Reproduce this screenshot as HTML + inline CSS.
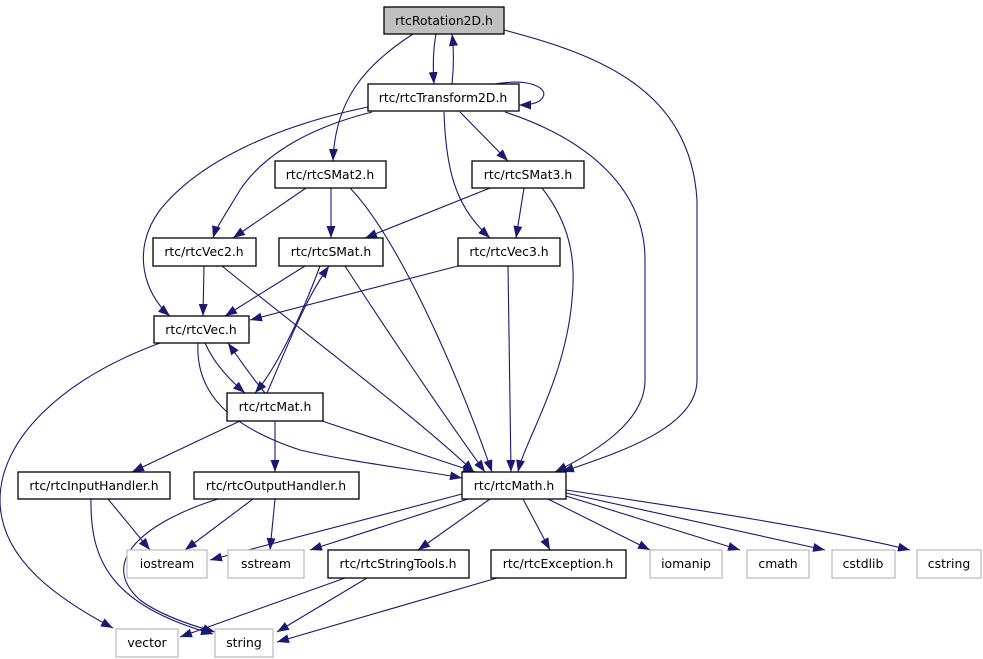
<!DOCTYPE html>
<html><head><meta charset="utf-8"><style>
html,body{margin:0;padding:0;background:#fff;width:983px;height:659px;overflow:hidden}
svg text{font-family:"DejaVu Sans","Liberation Sans",sans-serif;font-size:12.4px;fill:#000}
</style></head><body>
<svg width="983" height="659" viewBox="0 0 983 659" xmlns="http://www.w3.org/2000/svg">
<defs><marker id="a" viewBox="0 0 12 10" refX="12" refY="5" markerWidth="12" markerHeight="10" markerUnits="userSpaceOnUse" orient="auto"><path d="M0,0.5 L12,5 L0,9.5 z" fill="#191970"/></marker></defs>
<g fill="none" stroke="#191970" stroke-width="1.1" marker-end="url(#a)">
<path d="M436,34 C433,50 433,70 434,84"/>
<path d="M452,84 C454,65 454,50 452,34"/>
<path d="M495,84 C530,78 548,88 543,97 C540,103 530,105 519,105"/>
<path d="M413,34 C365,65 335,100 333,161"/>
<path d="M504,30 C600,55 690,90 697,200 L697,380 C697,430 610,455 562,472"/>
<path d="M368,107 C280,125 200,160 160,210 C130,250 145,295 170,316"/>
<path d="M372,112 C300,130 260,160 240,190 C225,215 216,228 213,238"/>
<path d="M460,112 L508,161"/>
<path d="M444,112 C446,180 460,210 490,238"/>
<path d="M505,112 C590,140 645,190 645,260 L645,380 C645,420 600,450 555,472"/>
<path d="M306,188 L233,238"/>
<path d="M331,188 L331,238"/>
<path d="M350,188 C400,240 460,380 492,472"/>
<path d="M490,188 L365,238"/>
<path d="M524,188 L516,238"/>
<path d="M542,188 C575,230 575,270 572,300 C565,380 525,440 518,472"/>
<path d="M204,266 L203,316"/>
<path d="M222,266 C300,330 420,420 474,472"/>
<path d="M305,266 L225,316"/>
<path d="M320,266 C300,320 275,370 255,393"/>
<path d="M267,393 C290,340 305,300 329,266"/>
<path d="M345,266 C380,320 440,410 485,472"/>
<path d="M458,266 L250,320"/>
<path d="M508,266 L511,472"/>
<path d="M160,343 C60,380 0,440 0,500 C0,560 60,600 113,628"/>
<path d="M205,343 C215,365 230,380 245,393"/>
<path d="M265,393 C250,375 240,360 228,343"/>
<path d="M198,343 C195,400 240,430 300,450 C350,462 420,470 462,478"/>
<path d="M240,421 L132,472"/>
<path d="M275,421 L275,472"/>
<path d="M322,421 L475,472"/>
<path d="M108,499 L150,550"/>
<path d="M91,499 C90,560 110,605 213,634"/>
<path d="M253,499 L185,550"/>
<path d="M275,499 L270,550"/>
<path d="M218,499 C150,520 95,560 140,600 C160,615 190,625 215,632"/>
<path d="M462,494 L210,560"/>
<path d="M468,499 L310,550"/>
<path d="M490,499 L418,550"/>
<path d="M523,499 L550,550"/>
<path d="M548,499 L650,550"/>
<path d="M566,496 L740,550"/>
<path d="M566,493 L825,550"/>
<path d="M566,490 C700,510 830,530 910,550"/>
<path d="M345,578 L180,637"/>
<path d="M367,578 L277,632"/>
<path d="M497,578 L277,642"/>
</g>
<g stroke-width="1.3">
<rect x="384" y="7" width="120" height="27" fill="#bfbfbf" stroke="#000"/>
<rect x="368" y="84" width="151" height="27" fill="#fff" stroke="#000"/>
<rect x="275" y="161" width="111" height="27" fill="#fff" stroke="#000"/>
<rect x="472" y="161" width="112" height="27" fill="#fff" stroke="#000"/>
<rect x="153" y="238" width="103" height="28" fill="#fff" stroke="#000"/>
<rect x="279" y="238" width="104" height="28" fill="#fff" stroke="#000"/>
<rect x="458" y="238" width="102" height="28" fill="#fff" stroke="#000"/>
<rect x="154" y="316" width="95" height="27" fill="#fff" stroke="#000"/>
<rect x="227" y="393" width="96" height="28" fill="#fff" stroke="#000"/>
<rect x="18" y="472" width="152" height="27" fill="#fff" stroke="#000"/>
<rect x="194" y="472" width="165" height="27" fill="#fff" stroke="#000"/>
<rect x="462" y="472" width="104" height="27" fill="#fff" stroke="#000"/>
<rect x="328" y="550" width="141" height="28" fill="#fff" stroke="#000"/>
<rect x="491" y="550" width="135" height="28" fill="#fff" stroke="#000"/>
<g fill="#fff" stroke="#bfbfbf">
<rect x="127" y="550" width="80" height="28"/>
<rect x="228" y="550" width="76" height="28"/>
<rect x="650" y="550" width="72" height="28"/>
<rect x="747" y="550" width="62" height="28"/>
<rect x="832" y="550" width="63" height="28"/>
<rect x="917" y="550" width="64" height="28"/>
<rect x="116" y="629" width="62" height="28"/>
<rect x="215" y="629" width="58" height="28"/>
</g></g>
<g text-anchor="middle">
<text x="444" y="25">rtcRotation2D.h</text>
<text x="443" y="102">rtc/rtcTransform2D.h</text>
<text x="330" y="179">rtc/rtcSMat2.h</text>
<text x="528" y="179">rtc/rtcSMat3.h</text>
<text x="204" y="256">rtc/rtcVec2.h</text>
<text x="331" y="256">rtc/rtcSMat.h</text>
<text x="509" y="256">rtc/rtcVec3.h</text>
<text x="201" y="334">rtc/rtcVec.h</text>
<text x="275" y="411">rtc/rtcMat.h</text>
<text x="94" y="490">rtc/rtcInputHandler.h</text>
<text x="276" y="490">rtc/rtcOutputHandler.h</text>
<text x="514" y="490">rtc/rtcMath.h</text>
<text x="167" y="568">iostream</text>
<text x="266" y="568">sstream</text>
<text x="398" y="568">rtc/rtcStringTools.h</text>
<text x="558" y="568">rtc/rtcException.h</text>
<text x="686" y="568">iomanip</text>
<text x="778" y="568">cmath</text>
<text x="863" y="568">cstdlib</text>
<text x="949" y="568">cstring</text>
<text x="147" y="647">vector</text>
<text x="244" y="647">string</text>
</g>
</svg>
</body></html>
